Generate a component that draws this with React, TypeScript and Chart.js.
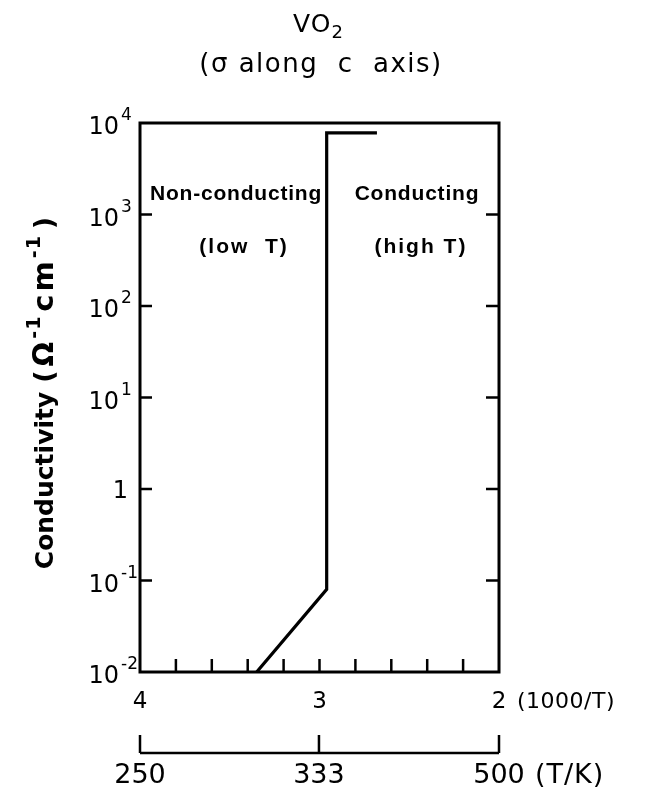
import React, { useEffect, useRef } from "react";
import { Chart, registerables } from "chart.js";

Chart.register(...registerables);

// ---- data ----
const curveInvT = [3.35, 2.96, 2.96, 2.68];
const curveSigma = [0.01, 0.08, 7800, 7800];

const yTickValues = [0.01, 0.1, 1, 10, 100, 1000, 10000];
const yTickBase = ["10", "10", "1", "10", "10", "10", "10"];
const yTickExp = ["-2", "-1", "", "1", "2", "3", "4"];

const xTickValues = [3.8, 3.6, 3.4, 3.2, 3.0, 2.8, 2.6, 2.4, 2.2];
const xLabelValues = [4, 3, 2];
const xLabels = ["4", "3", "2"];

const tempValues = [250, 333, 500];
const tempLabels = ["250", "333", "500"];

const annoTexts = ["Non-conducting", "(low  T)", "Conducting", "(high T)"];
const annoInvT = [3.465, 3.42, 2.457, 2.435];
const annoSigma = [1440, 380, 1440, 380];

const DJ = '"DejaVu Sans", sans-serif';
const LB = '"Liberation Sans", Arial, sans-serif';

type Run = { t: string; font: string; dy?: number; ls?: number; gap?: number };

function drawRuns(ctx: CanvasRenderingContext2D, runs: Run[], x: number, y: number, align: "left" | "center" | "right") {
  ctx.textAlign = "left";
  ctx.textBaseline = "alphabetic";
  const widths = runs.map((r) => {
    ctx.font = r.font;
    (ctx as any).letterSpacing = (r.ls || 0) + "px";
    return ctx.measureText(r.t).width + (r.gap || 0);
  });
  const total = widths.reduce((a, b) => a + b, 0);
  let cx = align === "left" ? x : align === "center" ? x - total / 2 : x - total;
  runs.forEach((r, i) => {
    ctx.font = r.font;
    (ctx as any).letterSpacing = (r.ls || 0) + "px";
    ctx.fillText(r.t, cx, y + (r.dy || 0));
    cx += widths[i];
  });
  (ctx as any).letterSpacing = "0px";
}

const framePlugin = {
  id: "framePlugin",
  afterDraw(chart: any) {
    const ctx: CanvasRenderingContext2D = chart.ctx;
    const xs = chart.scales.x;
    const ys = chart.scales.y;
    const { left, right, top, bottom } = chart.chartArea;
    ctx.save();
    ctx.strokeStyle = "#000";
    ctx.fillStyle = "#000";

    // frame
    ctx.lineWidth = 3;
    ctx.strokeRect(left, top, right - left, bottom - top);

    // x ticks (inward)
    ctx.lineWidth = 2.5;
    xTickValues.forEach((v) => {
      const px = xs.getPixelForValue(v);
      ctx.beginPath();
      ctx.moveTo(px, bottom);
      ctx.lineTo(px, bottom - 13);
      ctx.stroke();
    });
    // y ticks both sides (inward)
    yTickValues.forEach((v) => {
      const py = ys.getPixelForValue(v);
      if (Math.abs(py - top) < 2 || Math.abs(py - bottom) < 2) return;
      ctx.beginPath();
      ctx.moveTo(left, py);
      ctx.lineTo(left + 12, py);
      ctx.moveTo(right, py);
      ctx.lineTo(right - 13, py);
      ctx.stroke();
    });

    // y labels
    yTickValues.forEach((v, i) => {
      const py = ys.getPixelForValue(v);
      if (yTickExp[i] === "") {
        drawRuns(ctx, [{ t: yTickBase[i], font: `24px ${DJ}` }], left - 12, py + 9, "right");
      } else {
        drawRuns(ctx, [{ t: yTickBase[i], font: `24px ${DJ}` }], left - 21, py + 11, "right");
        drawRuns(ctx, [{ t: yTickExp[i], font: `17px ${DJ}` }], left - 19, py - 3, "left");
      }
    });

    // x labels
    xLabelValues.forEach((v, i) => {
      const px = xs.getPixelForValue(v);
      drawRuns(ctx, [{ t: xLabels[i], font: `23px ${DJ}` }], px, bottom + 36, "center");
    });
    drawRuns(ctx, [{ t: "(1000/T)", font: `22px ${DJ}`, ls: 0.5 }], xs.getPixelForValue(2) + 18, bottom + 36, "left");

    // temperature axis
    const axY = bottom + 81;
    const tx = tempValues.map((t) => xs.getPixelForValue(1000 / t));
    ctx.lineWidth = 2.5;
    ctx.beginPath();
    ctx.moveTo(Math.min(...tx), axY);
    ctx.lineTo(Math.max(...tx), axY);
    tx.forEach((px) => {
      ctx.moveTo(px, axY);
      ctx.lineTo(px, axY - 18);
    });
    ctx.stroke();
    tx.forEach((px, i) => {
      drawRuns(ctx, [{ t: tempLabels[i], font: `27px ${DJ}` }], px, bottom + 111, "center");
    });
    drawRuns(ctx, [{ t: "(T/K)", font: `27px ${DJ}`, ls: 1 }], xs.getPixelForValue(2) + 36, bottom + 111, "left");

    // annotations
    annoTexts.forEach((t, i) => {
      const px = xs.getPixelForValue(annoInvT[i]);
      const py = ys.getPixelForValue(annoSigma[i]);
      const isParen = t.startsWith("(");
      drawRuns(ctx, [{ t, font: `bold 21px ${LB}`, ls: isParen ? 2 : 0.8 }], px, py, "center");
    });

    // title
    drawRuns(
      ctx,
      [
        { t: "VO", font: `25px ${DJ}`, ls: 1 },
        { t: "2", font: `18px ${DJ}`, dy: 6 },
      ],
      318,
      32,
      "center"
    );
    drawRuns(ctx, [{ t: "(σ along  c  axis)", font: `26px ${DJ}`, ls: 1.5 }], 321, 72, "center");

    // y axis title (rotated)
    ctx.save();
    ctx.translate(53, 393);
    ctx.rotate(-Math.PI / 2);
    drawRuns(
      ctx,
      [
        { t: "Conductivity", font: `bold 25px ${DJ}`, gap: 9 },
        { t: "(", font: `bold 27px ${DJ}`, gap: 4 },
        { t: "Ω", font: `bold 29px ${DJ}`, gap: 3 },
        { t: "-1", font: `bold 19px ${DJ}`, dy: -13, ls: 1, gap: 4 },
        { t: "cm", font: `bold 29px ${DJ}`, ls: 3, gap: 0 },
        { t: "-1", font: `bold 19px ${DJ}`, dy: -13, ls: 1, gap: 6 },
        { t: ")", font: `bold 27px ${DJ}` },
      ],
      0,
      0,
      "center"
    );
    ctx.restore();

    ctx.restore();
  },
};

export default function App() {
  const canvasRef = useRef<HTMLCanvasElement | null>(null);

  useEffect(() => {
    document.body.style.margin = "0";
    const canvas = canvasRef.current;
    if (!canvas) return;
    const chart = new Chart(canvas, {
      type: "line",
      data: {
        datasets: [
          {
            data: curveInvT.map((x, i) => ({ x, y: curveSigma[i] })),
            borderColor: "#000",
            borderWidth: 3.2,
            pointRadius: 0,
            fill: false,
            tension: 0,
            borderJoinStyle: "miter",
          } as any,
        ],
      },
      options: {
        animation: false,
        responsive: false,
        devicePixelRatio: 1,
        layout: { padding: { left: 140, right: 165, top: 123, bottom: 120 } },
        plugins: {
          legend: { display: false },
          tooltip: { enabled: false },
          title: { display: false },
        },
        scales: {
          x: { type: "linear", reverse: true, min: 2, max: 4, display: false },
          y: { type: "logarithmic", min: 0.01, max: 10000, display: false },
        },
      } as any,
      plugins: [framePlugin],
    });
    return () => chart.destroy();
  }, []);

  return (
    <div style={{ width: 664, height: 792, background: "#fff" }}>
      <canvas ref={canvasRef} width={664} height={792} style={{ display: "block" }} />
    </div>
  );
}
